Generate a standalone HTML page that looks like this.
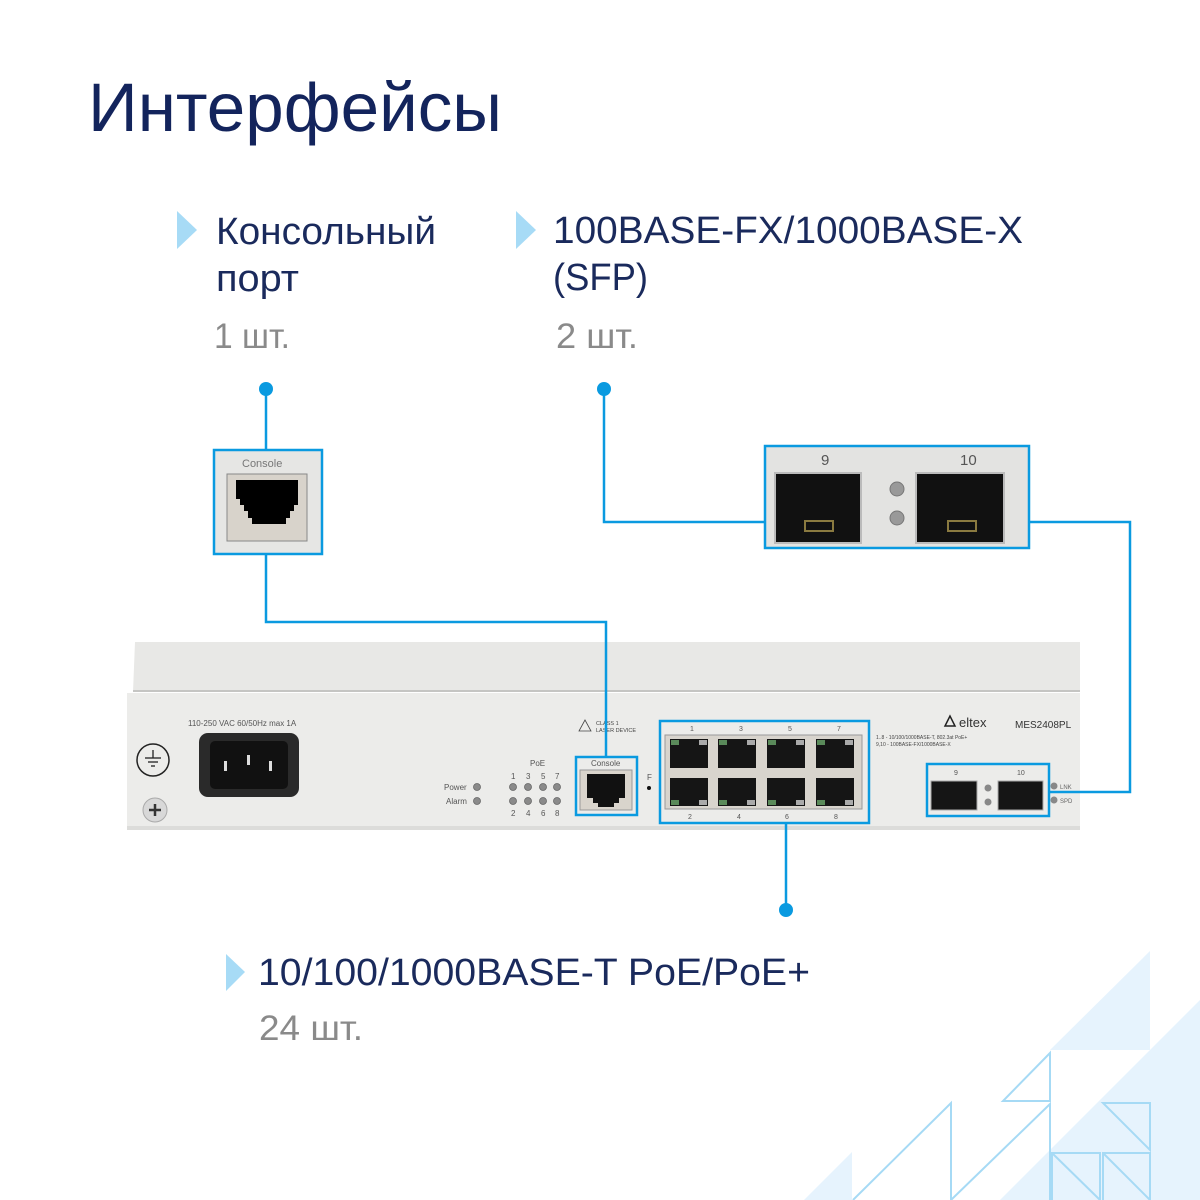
<!DOCTYPE html>
<html><head><meta charset="utf-8"><style>
html,body{margin:0;padding:0;background:#fff;width:1200px;height:1200px;overflow:hidden}
svg{display:block}
text{font-family:"Liberation Sans","DejaVu Sans",sans-serif}
</style></head><body>
<svg width="1200" height="1200" viewBox="0 0 1200 1200" xmlns="http://www.w3.org/2000/svg">
<!-- decoration -->
<g fill="#e6f3fd">
<polygon points="1150,951 1050,1050 1150,1050"/>
<polygon points="1200,1000 1000,1200 1200,1200"/>
<polygon points="852,1152 804,1200 852,1200"/>
</g>
<g fill="none" stroke="#a6daf5" stroke-width="2">
<polygon points="1050,1053 1003,1101 1050,1101"/>
<polyline points="853,1200 951,1103 951,1200"/>
<polyline points="951,1200 1050,1104 1050,1200"/>
<polygon points="1103,1103 1150,1103 1150,1150"/>
<polyline points="1052,1200 1052,1153 1100,1153 1100,1200"/>
<line x1="1052" y1="1153" x2="1100" y2="1200"/>
<polyline points="1103,1200 1103,1153 1150,1153 1150,1200"/>
<line x1="1103" y1="1153" x2="1150" y2="1200"/>
</g>

<!-- titles -->
<text x="88" y="131" font-size="69" fill="#13245c" textLength="414" lengthAdjust="spacingAndGlyphs">Интерфейсы</text>
<g fill="#a7dbf6">
<polygon points="177,211 197,230 177,249"/>
<polygon points="516,211 536,230 516,249"/>
<polygon points="226,954 245,972 226,991"/>
</g>
<g fill="#1a2a5c" font-size="38">
<text x="216" y="244" textLength="220" lengthAdjust="spacingAndGlyphs">Консольный</text>
<text x="216" y="291" textLength="83" lengthAdjust="spacingAndGlyphs">порт</text>
<text x="553" y="243" textLength="470" lengthAdjust="spacingAndGlyphs">100BASE-FX/1000BASE-X</text>
<text x="553" y="290" textLength="95" lengthAdjust="spacingAndGlyphs">(SFP)</text>
<text x="258" y="985" textLength="552" lengthAdjust="spacingAndGlyphs">10/100/1000BASE-T PoE/PoE+</text>
</g>
<g fill="#8a8a8a" font-size="35">
<text x="214" y="348" textLength="76" lengthAdjust="spacingAndGlyphs">1 шт.</text>
<text x="556" y="348" textLength="82" lengthAdjust="spacingAndGlyphs">2 шт.</text>
<text x="259" y="1040" textLength="104" lengthAdjust="spacingAndGlyphs">24 шт.</text>
</g>

<!-- switch body -->
<polygon points="135,642 1080,642 1080,692 133,692" fill="#e8e8e6"/>
<line x1="133" y1="691" x2="1080" y2="691" stroke="#b9b9b7" stroke-width="1.5"/>
<rect x="127" y="693" width="953" height="137" fill="#ececea"/>
<rect x="127" y="826" width="953" height="4" fill="#dcdcda"/>

<!-- power -->
<text x="188" y="726" font-size="8" fill="#555">110-250 VAC 60/50Hz max 1A</text>
<rect x="199" y="733" width="100" height="64" rx="9" fill="#2a2a2a"/>
<rect x="210" y="741" width="78" height="48" rx="5" fill="#111"/>
<rect x="224" y="761" width="3" height="10" fill="#ddd"/>
<rect x="247" y="755" width="3" height="10" fill="#ddd"/>
<rect x="269" y="761" width="3" height="10" fill="#ddd"/>
<circle cx="153" cy="760" r="16" fill="none" stroke="#222" stroke-width="1.5"/>
<line x1="153" y1="750" x2="153" y2="758" stroke="#222" stroke-width="1.3"/>
<line x1="145" y1="758" x2="161" y2="758" stroke="#222" stroke-width="1.3"/>
<line x1="148" y1="762" x2="158" y2="762" stroke="#222" stroke-width="1.3"/>
<line x1="151" y1="766" x2="155" y2="766" stroke="#222" stroke-width="1.3"/>
<circle cx="155" cy="810" r="12" fill="#d8d8d8" stroke="#aaa"/>
<path d="M149 810h12M155 804v12" stroke="#333" stroke-width="2.5"/>

<!-- LEDs -->
<g font-size="8" fill="#555">
<text x="444" y="790">Power</text>
<text x="446" y="804">Alarm</text>
<text x="530" y="766">PoE</text>
<text x="511" y="779">1</text><text x="526" y="779">3</text><text x="541" y="779">5</text><text x="555" y="779">7</text>
<text x="511" y="816">2</text><text x="526" y="816">4</text><text x="541" y="816">6</text><text x="555" y="816">8</text>
<text x="647" y="780">F</text>
</g>
<g fill="#8a8a8a" stroke="#666" stroke-width="0.8">
<circle cx="477" cy="787" r="3.5"/><circle cx="477" cy="801" r="3.5"/>
<circle cx="513" cy="787" r="3.5"/><circle cx="528" cy="787" r="3.5"/><circle cx="543" cy="787" r="3.5"/><circle cx="557" cy="787" r="3.5"/>
<circle cx="513" cy="801" r="3.5"/><circle cx="528" cy="801" r="3.5"/><circle cx="543" cy="801" r="3.5"/><circle cx="557" cy="801" r="3.5"/>
</g>
<circle cx="649" cy="788" r="2" fill="#111"/>
<text x="596" y="725" font-size="5.5" fill="#444">CLASS 1</text>
<text x="596" y="732" font-size="5.5" fill="#444">LASER DEVICE</text>
<polygon points="585,720 579,731 591,731" fill="none" stroke="#444" stroke-width="0.8"/>

<!-- console on switch -->
<text x="591" y="766" font-size="8" fill="#555">Console</text>
<rect x="580" y="770" width="52" height="40" fill="#d9d4cc" stroke="#999"/>
<path d="M587 774h38v24h-6v5h-5v4h-16v-4h-5v-5h-6z" fill="#111"/>

<!-- RJ45 block -->
<g font-size="7" fill="#555">
<text x="690" y="731">1</text><text x="739" y="731">3</text><text x="788" y="731">5</text><text x="837" y="731">7</text>
<text x="688" y="819">2</text><text x="737" y="819">4</text><text x="785" y="819">6</text><text x="834" y="819">8</text>
</g>
<rect x="665" y="735" width="197" height="74" fill="#d8d4cd" stroke="#999"/>
<g fill="#151515">
<rect x="670" y="739" width="38" height="29"/><rect x="718" y="739" width="38" height="29"/><rect x="767" y="739" width="38" height="29"/><rect x="816" y="739" width="38" height="29"/>
<rect x="670" y="778" width="38" height="28"/><rect x="718" y="778" width="38" height="28"/><rect x="767" y="778" width="38" height="28"/><rect x="816" y="778" width="38" height="28"/>
</g>
<g fill="#5a8a5a">
<rect x="671" y="740" width="8" height="5"/><rect x="719" y="740" width="8" height="5"/><rect x="768" y="740" width="8" height="5"/><rect x="817" y="740" width="8" height="5"/>
<rect x="671" y="800" width="8" height="5"/><rect x="719" y="800" width="8" height="5"/><rect x="768" y="800" width="8" height="5"/><rect x="817" y="800" width="8" height="5"/>
</g>
<g fill="#aaa">
<rect x="699" y="740" width="8" height="5"/><rect x="747" y="740" width="8" height="5"/><rect x="796" y="740" width="8" height="5"/><rect x="845" y="740" width="8" height="5"/>
<rect x="699" y="800" width="8" height="5"/><rect x="747" y="800" width="8" height="5"/><rect x="796" y="800" width="8" height="5"/><rect x="845" y="800" width="8" height="5"/>
</g>

<!-- logo and legend -->
<polygon points="950,716 945,726 955,726" fill="none" stroke="#222" stroke-width="1.5"/>
<text x="959" y="727" font-size="13" fill="#333">eltex</text>
<text x="1015" y="728" font-size="10" fill="#333">MES2408PL</text>
<text x="876" y="739" font-size="5" fill="#444">1..8 - 10/100/1000BASE-T, 802.3at PoE+</text>
<text x="876" y="746" font-size="5" fill="#444">9,10 - 100BASE-FX/1000BASE-X</text>

<!-- SFP on switch -->
<text x="954" y="775" font-size="7" fill="#555">9</text>
<text x="1017" y="775" font-size="7" fill="#555">10</text>
<rect x="931" y="781" width="46" height="29" fill="#151515" stroke="#aaa"/>
<rect x="998" y="781" width="45" height="29" fill="#151515" stroke="#aaa"/>
<circle cx="988" cy="788" r="3.5" fill="#888"/><circle cx="988" cy="802" r="3.5" fill="#888"/>
<circle cx="1054" cy="786" r="3.5" fill="#888"/><circle cx="1054" cy="800" r="3.5" fill="#888"/>
<text x="1060" y="789" font-size="6" fill="#666">LNK</text>
<text x="1060" y="803" font-size="6" fill="#666">SPD</text>

<!-- insets -->
<rect x="214" y="450" width="108" height="104" fill="#e6e6e4"/>
<text x="242" y="467" font-size="11" fill="#777">Console</text>
<rect x="227" y="474" width="80" height="67" fill="#d8d3cb" stroke="#888"/>
<path d="M236 480h62v25h-4v6h-4v7h-4v6h-34v-6h-4v-7h-4v-6h-4v-6h-4z" fill="#000"/>

<rect x="765" y="446" width="264" height="102" fill="#e3e3e1"/>
<text x="821" y="465" font-size="15" fill="#555">9</text>
<text x="960" y="465" font-size="15" fill="#555">10</text>
<rect x="775" y="473" width="86" height="70" fill="#111" stroke="#bbb" stroke-width="2"/>
<rect x="916" y="473" width="88" height="70" fill="#111" stroke="#bbb" stroke-width="2"/>
<rect x="805" y="521" width="28" height="10" fill="none" stroke="#8a7a40" stroke-width="2"/>
<rect x="948" y="521" width="28" height="10" fill="none" stroke="#8a7a40" stroke-width="2"/>
<circle cx="897" cy="489" r="7" fill="#999" stroke="#777"/>
<circle cx="897" cy="518" r="7" fill="#999" stroke="#777"/>

<!-- connectors -->
<g fill="none" stroke="#0a9ae0" stroke-width="2.5">
<rect x="214" y="450" width="108" height="104"/>
<rect x="765" y="446" width="264" height="102"/>
<rect x="576" y="757" width="61" height="58"/>
<rect x="660" y="721" width="209" height="102"/>
<rect x="927" y="764" width="122" height="52"/>
<polyline points="266,389 266,450"/>
<polyline points="266,554 266,622 606,622 606,757"/>
<polyline points="604,389 604,522 765,522"/>
<polyline points="1029,522 1130,522 1130,792 1049,792"/>
<polyline points="786,823 786,910"/>
</g>
<g fill="#0a9ae0">
<circle cx="266" cy="389" r="7"/>
<circle cx="604" cy="389" r="7"/>
<circle cx="786" cy="910" r="7"/>
</g>
</svg>
</body></html>
